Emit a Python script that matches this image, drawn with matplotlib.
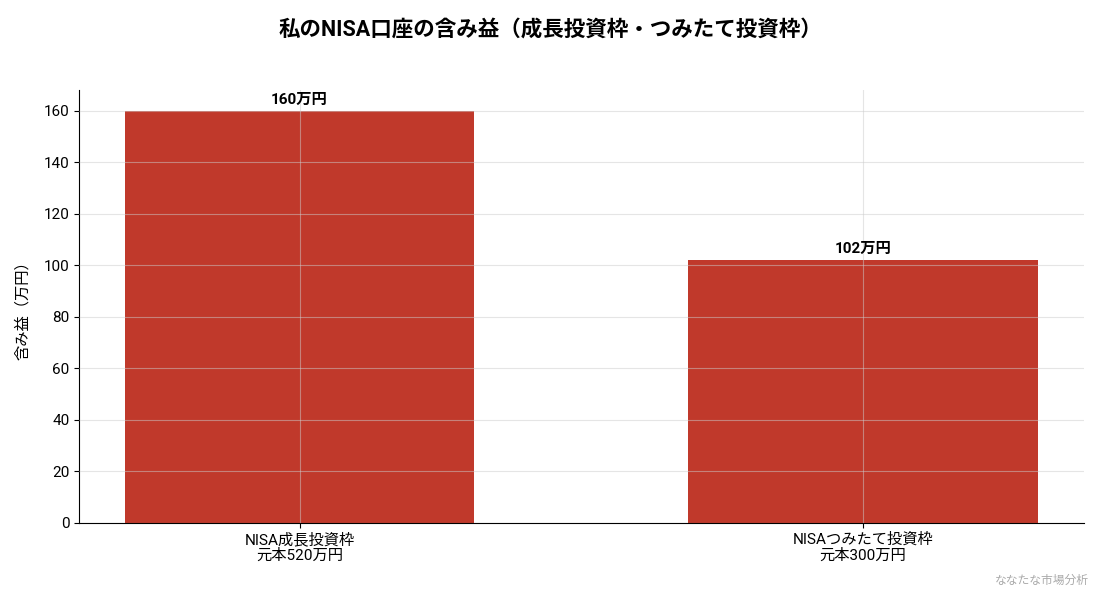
import matplotlib
matplotlib.use("Agg")
import matplotlib.pyplot as plt

plt.rcParams['font.family'] = ['Roboto', 'Noto Sans CJK JP', 'DejaVu Sans']

# データ
labels = ["NISA成長投資枠\n元本520万円", "NISAつみたて投資枠\n元本300万円"]
values = [160, 102]
value_labels = ["160万円", "102万円"]

fig, ax = plt.subplots(figsize=(11, 5.94), dpi=100)
fig.subplots_adjust(left=0.072, right=0.985, top=0.848, bottom=0.12)

x = range(len(labels))
bars = ax.bar(x, values, width=0.62, color="#c0392b")
for b, t in zip(bars, value_labels):
    ax.text(b.get_x() + b.get_width() / 2, b.get_height() + 1.5, t,
            ha="center", va="bottom", fontsize=11, fontweight="bold")

ax.set_xticks(list(x))
ax.set_xticklabels(labels, fontsize=11, linespacing=1.15)
ax.set_ylabel("含み益（万円）", fontsize=11, labelpad=10)
ax.tick_params(axis="y", labelsize=11)
ax.grid(True, color="#cccccc", alpha=0.5, linewidth=0.8)
ax.set_axisbelow(False)
ax.spines["top"].set_visible(False)
ax.spines["right"].set_visible(False)

fig.suptitle("私のNISA口座の含み益（成長投資枠・つみたて投資枠）",
             fontsize=15.5, fontweight="bold", y=0.968)
fig.text(0.99, 0.012, "ななたな市場分析", ha="right", va="bottom",
         fontsize=8.5, color="#aaaaaa")

fig.savefig("out.png", dpi=100)
